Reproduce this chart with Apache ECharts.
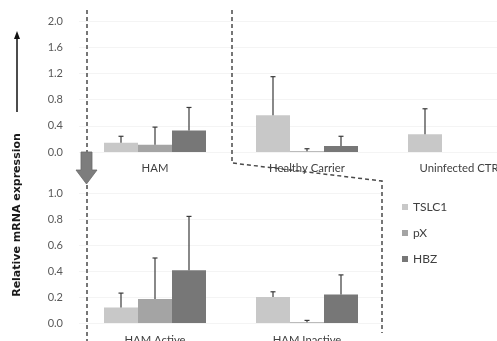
<!DOCTYPE html>
<html>
<head>
<meta charset="utf-8">
<script src="https://cdn.jsdelivr.net/npm/echarts@6/dist/echarts.min.js"></script>
<style>
  html, body { margin: 0; padding: 0; background: #fff; overflow: hidden; }
  /* the upper panel runs past the right edge of the window */
  #chart { width: 560px; height: 341px; }
</style>
</head>
<body>
<div id="chart"></div>
<script>
// Upper panel: patient groups
const topCategories = ['HAM', 'Healthy Carrier', 'Uninfected CTR'];
const topTSLC1 = [0.14, 0.56, 0.27];
const topTSLC1Sd = [0.10, 0.59, 0.39];
const topPX = [0.11, 0.01, null];
const topPXSd = [0.27, 0.04, null];
const topHBZ = [0.33, 0.09, null];
const topHBZSd = [0.35, 0.15, null];
const topTicks = { min: 0, max: 2.0, interval: 0.4 };

// Lower panel: HAM split by disease activity
const botCategories = ['HAM Active', 'HAM Inactive'];
const botTSLC1 = [0.12, 0.20];
const botTSLC1Sd = [0.11, 0.04];
const botPX = [0.185, 0.005];
const botPXSd = [0.315, 0.015];
const botHBZ = [0.405, 0.22];
const botHBZSd = [0.415, 0.15];
const botTicks = { min: 0, max: 1.0, interval: 0.2 };

const seriesNames = ['TSLC1', 'pX', 'HBZ'];
const colors = ['#c8c8c8', '#a4a4a4', '#777777'];
const BAR_W = 34;

const tickFont = { color: '#595959', fontSize: 11, fontFamily: 'Lato' };
const catFont = { color: '#404040', fontSize: 11.3, fontFamily: 'Lato' };

function barSeries(name, idx, data, axisIdx) {
  return {
    name: name, type: 'bar', xAxisIndex: axisIdx, yAxisIndex: axisIdx,
    data: data, barWidth: BAR_W, barGap: '0%',
    itemStyle: { color: colors[idx] }, z: 2
  };
}

function errSeries(name, idx, vals, sds, axisIdx) {
  const data = vals.map((v, i) => v == null ? null : [i, v, v + sds[i]]).filter(d => d);
  return {
    name: name, type: 'custom', xAxisIndex: axisIdx, yAxisIndex: axisIdx, z: 3,
    data: data,
    renderItem: function (params, api) {
      const base = api.coord([api.value(0), api.value(1)]);
      const top = api.coord([api.value(0), api.value(2)]);
      const x = base[0] + (idx - 1) * BAR_W;
      const st = { stroke: '#3a3a3a', lineWidth: 1.2 };
      return {
        type: 'group',
        children: [
          { type: 'line', shape: { x1: x, y1: base[1], x2: x, y2: top[1] }, style: st },
          { type: 'line', shape: { x1: x - 2.5, y1: top[1], x2: x + 2.5, y2: top[1] }, style: st }
        ]
      };
    }
  };
}

const topVals = [topTSLC1, topPX, topHBZ];
const topSds = [topTSLC1Sd, topPXSd, topHBZSd];
const botVals = [botTSLC1, botPX, botHBZ];
const botSds = [botTSLC1Sd, botPXSd, botHBZSd];

const series = [];
seriesNames.forEach((n, i) => series.push(barSeries(n, i, topVals[i], 0)));
seriesNames.forEach((n, i) => series.push(barSeries(n, i, botVals[i], 1)));
seriesNames.forEach((n, i) => series.push(errSeries(n, i, topVals[i], topSds[i], 0)));
seriesNames.forEach((n, i) => series.push(errSeries(n, i, botVals[i], botSds[i], 1)));

const dash = { stroke: '#4a4a4a', lineWidth: 1.5, lineDash: [4, 3] };

function yAxis(grid, t) {
  return {
    type: 'value', gridIndex: grid, min: t.min, max: t.max, interval: t.interval,
    axisLine: { show: false }, axisTick: { show: false },
    splitLine: { show: true, lineStyle: { color: '#f4f4f4', width: 1 } },
    axisLabel: Object.assign({ margin: 16, formatter: v => v.toFixed(1) }, tickFont)
  };
}

function xAxis(grid, cats, margin) {
  return {
    type: 'category', gridIndex: grid, data: cats,
    axisLine: { show: false }, axisTick: { show: false },
    axisLabel: Object.assign({ interval: 0, margin: margin }, catFont)
  };
}

const option = {
  animation: false,
  backgroundColor: '#fff',
  grid: [
    { left: 79, top: 21, width: 456, height: 131, outerBoundsMode: 'none' },
    { left: 79, top: 193, width: 304, height: 130, outerBoundsMode: 'none' }
  ],
  xAxis: [xAxis(0, topCategories, 11), xAxis(1, botCategories, 12)],
  yAxis: [yAxis(0, topTicks), yAxis(1, botTicks)],
  legend: {
    orient: 'vertical', left: 397, top: 196,
    itemWidth: 6, itemHeight: 6, itemGap: 14, icon: 'rect',
    data: seriesNames,
    textStyle: { color: '#404040', fontSize: 12, fontFamily: 'Lato' }
  },
  series: series,
  graphic: [
    // axis title with upward arrow
    { type: 'line', shape: { x1: 17, y1: 112, x2: 17, y2: 36 }, style: { stroke: '#111', lineWidth: 1.5 } },
    { type: 'polygon', shape: { points: [[17, 31], [14, 39], [20, 39]] }, style: { fill: '#111' } },
    {
      type: 'text', x: 17, y: 215, rotation: Math.PI / 2,
      style: {
        text: 'Relative mRNA expression', fill: '#1a1a1a',
        font: 'bold 11px "DejaVu Sans"', align: 'center', verticalAlign: 'middle'
      }
    },
    // dashed frame linking the HAM group to its subdivision
    { type: 'polyline', shape: { points: [[87, 10], [87, 152]] }, style: dash, z: 10 },
    { type: 'polyline', shape: { points: [[87, 185], [87, 341]] }, style: dash, z: 10 },
    { type: 'polyline', shape: { points: [[232, 10], [232, 163], [382, 181], [382, 333]] }, style: Object.assign({ fill: null }, dash), z: 10 },
    // block arrow pointing down
    {
      type: 'polygon', z: 11,
      shape: { points: [[81, 152], [92, 152], [92, 170], [97, 170], [86.5, 184], [76, 170], [81, 170]] },
      style: { fill: '#7d7d7d', stroke: '#6a6a6a', lineWidth: 0.8 }
    }
  ]
};

const chart = echarts.init(document.getElementById('chart'), null, { renderer: 'canvas' });
chart.setOption(option);
</script>
</body>
</html>
